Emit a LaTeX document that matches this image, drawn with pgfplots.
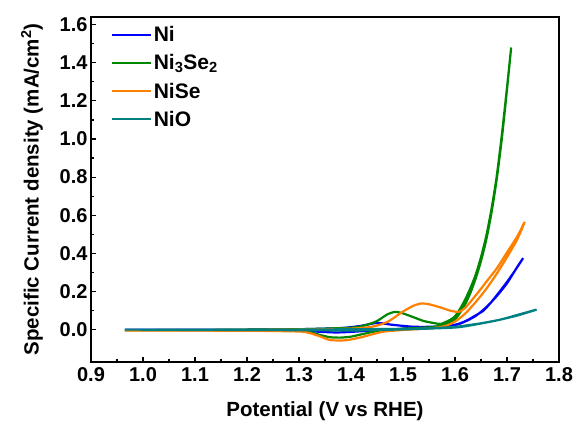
\documentclass[border=0pt]{standalone}
\usepackage{fontspec}
\setmainfont{Liberation Sans}
\usepackage{pgfplots}
\pgfplotsset{compat=1.18}

\definecolor{cNi}{RGB}{0,0,255}
\definecolor{cNiSe2}{RGB}{0,135,0}
\definecolor{cNiSe}{RGB}{255,128,0}
\definecolor{cNiO}{RGB}{0,128,128}

\begin{document}
\begin{tikzpicture}
\begin{axis}[
  scale only axis,
  width=468pt, height=345pt,
  xmin=0.9, xmax=1.8,
  ymin=-0.17, ymax=1.64,
  xtick={0.9,1.0,...,1.81},
  ytick={0,0.2,...,1.61},
  minor x tick num=1,
  minor y tick num=1,
  xtick pos=bottom, ytick pos=left,
  tick align=inside,
  major tick length=5pt, minor tick length=3pt,
  axis line style={line width=1.6pt},
  every tick/.style={black, line width=1.2pt},
  /pgf/number format/assume math mode=true,
  /pgf/number format/.cd, fixed, fixed zerofill, precision=1, /pgfplots/.cd,
  tick label style={font=\fontsize{20}{20}\selectfont\bfseries},
  xticklabel style={yshift=-2pt},
  xlabel={Potential (V vs RHE)},
  ylabel={Specific Current density (mA/cm\textsuperscript{2})},
  label style={font=\fontsize{20.5}{21}\selectfont\bfseries},
  xlabel style={yshift=-13pt},
  ylabel style={yshift=10pt},
  legend style={draw=none, fill=none, at={(0.035,0.985)}, anchor=north west,
    font=\fontsize{21}{23}\selectfont\bfseries, row sep=7.5pt},
  legend cell align=left,
  legend image code/.code={\draw[#1] (0pt,0pt) -- (39pt,0pt);},
  every axis plot/.append style={line width=2.2pt, smooth, tension=0.4},
]
% Ni
\addplot[cNi] coordinates {
 (0.965,0.0) (1.1,0.0) (1.2,0.0) (1.3,0.002) (1.38,0.008) (1.42,0.02) (1.45,0.035)
 (1.48,0.025) (1.52,0.015) (1.56,0.015) (1.59,0.02) (1.61,0.033) (1.624,0.05) (1.64,0.075)
 (1.655,0.10) (1.67,0.145) (1.688,0.207) (1.70,0.25) (1.716,0.312) (1.731,0.375)
 (1.72,0.33) (1.70,0.243) (1.68,0.175) (1.66,0.117) (1.64,0.072) (1.62,0.043) (1.60,0.024)
 (1.55,0.01) (1.50,0.004) (1.45,-0.003) (1.40,-0.012) (1.37,-0.015) (1.33,-0.01)
 (1.30,-0.006) (1.2,-0.003) (1.1,-0.002) (0.965,0.0)
};
% Ni3Se2
\addplot[cNiSe2] coordinates {
 (0.965,-0.003) (1.1,-0.002) (1.2,0.0) (1.3,0.002) (1.40,0.01) (1.43,0.025) (1.45,0.045)
 (1.47,0.08) (1.485,0.093) (1.50,0.085) (1.52,0.065) (1.54,0.045) (1.56,0.034) (1.573,0.03)
 (1.59,0.05) (1.60,0.07) (1.61,0.11) (1.62,0.16) (1.63,0.22) (1.64,0.29) (1.65,0.38)
 (1.66,0.49) (1.67,0.63) (1.68,0.80) (1.69,1.02) (1.70,1.27) (1.708,1.48)
 (1.70,1.26) (1.69,1.0) (1.68,0.785) (1.67,0.61) (1.66,0.47) (1.65,0.36) (1.64,0.27)
 (1.63,0.195) (1.62,0.135) (1.61,0.09) (1.60,0.055) (1.58,0.025) (1.55,0.012) (1.50,0.005)
 (1.45,-0.008) (1.42,-0.025) (1.40,-0.037) (1.38,-0.042) (1.36,-0.04) (1.34,-0.028)
 (1.32,-0.012) (1.30,-0.005) (1.2,-0.003) (1.0,-0.003) (0.965,-0.003)
};
% NiSe
\addplot[cNiSe] coordinates {
 (0.965,-0.005) (1.1,-0.004) (1.2,-0.002) (1.3,0.0) (1.40,0.005) (1.44,0.015) (1.47,0.04)
 (1.50,0.095) (1.52,0.125) (1.535,0.137) (1.55,0.133) (1.57,0.118) (1.59,0.10) (1.607,0.093)
 (1.62,0.115) (1.643,0.19) (1.66,0.25) (1.68,0.32) (1.70,0.405) (1.72,0.49) (1.734,0.565)
 (1.72,0.475) (1.70,0.38) (1.68,0.292) (1.66,0.213) (1.64,0.145) (1.62,0.085) (1.60,0.042)
 (1.58,0.018) (1.55,0.006) (1.50,-0.002) (1.46,-0.012) (1.42,-0.04) (1.39,-0.056)
 (1.36,-0.055) (1.34,-0.035) (1.32,-0.018) (1.30,-0.01) (1.2,-0.006) (1.0,-0.005) (0.965,-0.005)
};
% NiO
\addplot[cNiO] coordinates {
 (0.965,0.0) (1.1,0.0) (1.2,0.0) (1.3,0.0) (1.4,0.002) (1.5,0.004) (1.55,0.007) (1.60,0.014)
 (1.624,0.023) (1.65,0.033) (1.688,0.053) (1.72,0.077) (1.757,0.105)
 (1.72,0.074) (1.68,0.048) (1.64,0.027) (1.60,0.011) (1.50,0.001) (1.40,-0.005) (1.35,-0.004)
 (1.2,-0.002) (0.965,0.0)
};
\legend{Ni, Ni\textsubscript{3}Se\textsubscript{2}, NiSe, NiO}
\coordinate (bl) at (rel axis cs:0,0);
\coordinate (tr) at (rel axis cs:1,1);
\end{axis}
\pgfresetboundingbox
\path ([shift={(-91pt,-61pt)}]bl) rectangle ([shift={(14pt,17pt)}]tr);
\end{tikzpicture}
\end{document}
